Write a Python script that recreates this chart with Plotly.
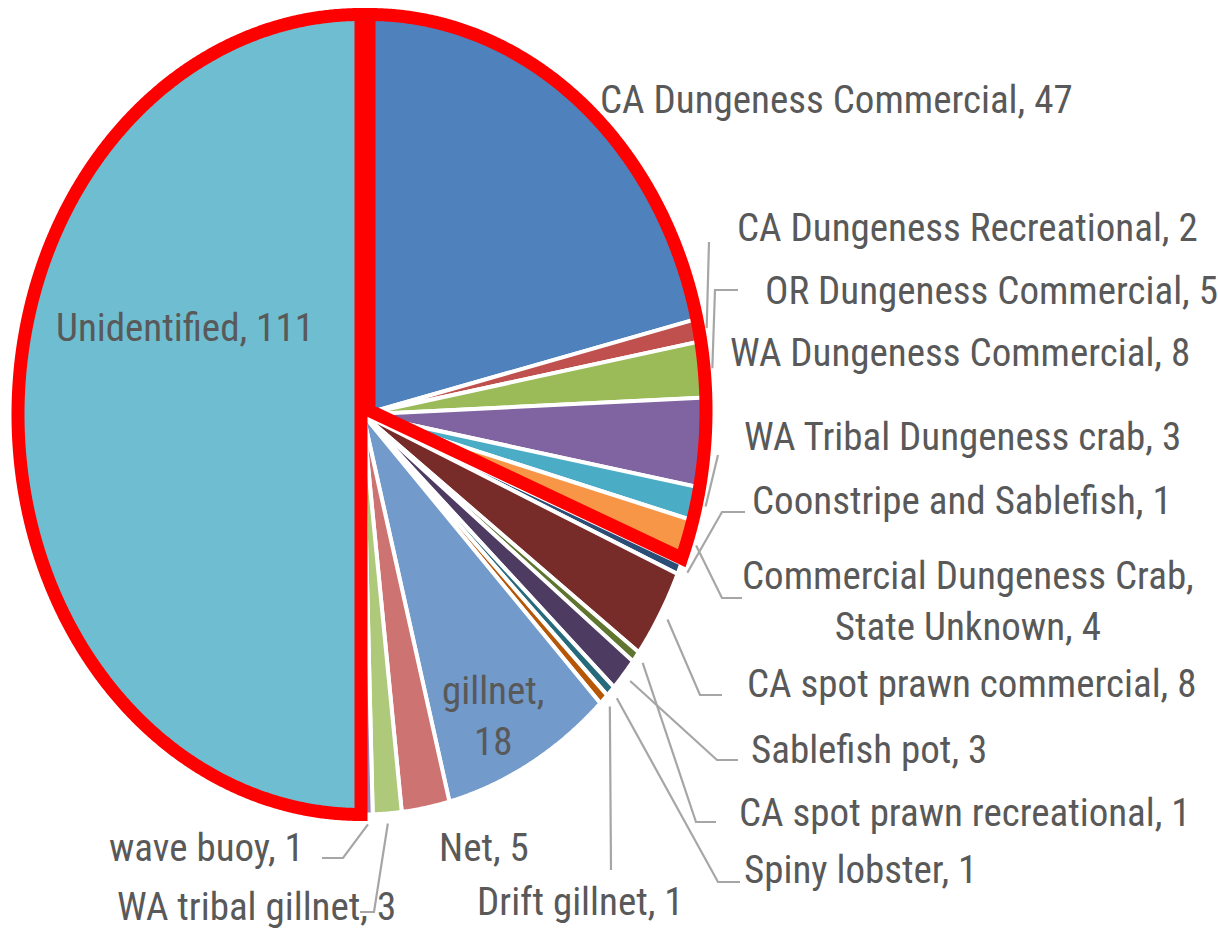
import numpy as np
import plotly.graph_objects as go

# ---------------- data ----------------
categories = [
    "CA Dungeness Commercial",
    "CA Dungeness Recreational",
    "OR Dungeness Commercial",
    "WA Dungeness Commercial",
    "WA Tribal Dungeness crab",
    "Commercial Dungeness Crab, State Unknown",
    "Coonstripe and Sablefish",
    "CA spot prawn commercial",
    "CA spot prawn recreational",
    "Sablefish pot",
    "Spiny lobster",
    "Drift gillnet",
    "gillnet",
    "Net",
    "WA tribal gillnet",
    "wave buoy",
    "Unidentified",
]
values = [47, 2, 5, 8, 3, 4, 1, 8, 1, 3, 1, 1, 18, 5, 3, 1, 111]

# groups outlined in red (index ranges, end exclusive)
outlined_groups = [(0, 6), (16, 17)]

# ---------------- styles ----------------
colors = [
    "#4F81BD", "#C0504D", "#9BBB59", "#8064A2", "#4BACC6", "#F79646",
    "#2C4D75", "#772C2A", "#5F7530", "#4D3B62", "#276A7C", "#B65708",
    "#729ACA", "#CD7371", "#AFC97A", "#9983B5", "#6FBDD1",
]
FONT = "Liberation Sans Narrow, Arial Narrow, Roboto Condensed, Lato, sans-serif"
FONT_SIZE = 39
TEXT_COLOR = "#595959"
LEADER_COLOR = "#A6A6A6"

# pie geometry (pixel space; axes map 1:1 to the page)
W, H = 1218, 933
CX, CY, RA, RB = 363, 414.5, 343, 400

# label layout: index -> (x, y, xanchor, leader elbow points)
label_layout = {
    0: (598, 100, "left", None),
    1: (735, 228, "left", [(709, 242)]),
    2: (763, 291, "left", [(715, 290), (738, 290)]),
    3: (728, 353, "left", None),
    4: (742, 437, "left", [(718, 455)]),
    5: (968, 601, "center", [(722, 598), (742, 598)]),
    6: (750, 501, "left", [(722, 512), (745, 512)]),
    7: (745, 684, "left", [(700, 695), (722, 695)]),
    8: (737, 813, "left", [(696, 822), (716, 822)]),
    9: (749, 750, "left", [(717, 760), (738, 760)]),
    10: (742, 870, "left", [(718, 882), (740, 882)]),
    11: (475, 902, "left", [(611, 870)]),
    12: (493, 716, "center", None),
    13: (437, 848, "left", None),
    14: (115, 907, "left", [(374, 912), (360, 912)]),
    15: (107, 848, "left", [(343, 858), (322, 858)]),
    16: (54, 328, "left", None),
}
line_breaks = {5: ("Commercial Dungeness Crab,", "State Unknown"), 12: ("gillnet,", "")}

# ---------------- geometry helpers ----------------
total = float(sum(values))
cum = np.concatenate([[0.0], np.cumsum(values)]) / total


def arc(f0, f1, cx, cy, a, b, per_turn=1440):
    n = max(2, int(np.ceil((f1 - f0) * per_turn)) + 1)
    t = 2 * np.pi * np.linspace(f0, f1, n)
    return list(cx + a * np.sin(t)), list(cy - b * np.cos(t))


def point(f, cx, cy, a, b, k=1.0):
    t = 2 * np.pi * f
    return cx + k * a * np.sin(t), cy - k * b * np.cos(t)


fig = go.Figure()

# slices
for i, (cat, v) in enumerate(zip(categories, values)):
    ax, ay = arc(cum[i], cum[i + 1], CX, CY, RA, RB)
    xs = [CX] + ax + [CX]
    ys = [CY] + ay + [CY]
    fig.add_trace(go.Scatter(
        x=xs, y=ys, mode="lines", fill="toself", fillcolor=colors[i],
        line=dict(color="white", width=4, simplify=False), hoverinfo="text",
        text=f"{cat}: {v}", name=cat, showlegend=False,
    ))

# red outlines around highlighted groups
outline_offsets = {0: (6, -4, 337, 396), 16: (-2, 0, 343, 400)}
for g0, g1 in outlined_groups:
    dx, dy, a, b = outline_offsets[g0]
    cx, cy = CX + dx, CY + dy
    f0, f1 = cum[g0], cum[g1]
    fm = (f0 + f1) / 2
    x1, y1 = arc(fm, f1, cx, cy, a, b)
    x2, y2 = arc(f0, fm, cx, cy, a, b)
    xs = x1 + [cx] + x2
    ys = y1 + [cy] + y2
    fig.add_trace(go.Scatter(
        x=xs, y=ys, mode="lines",
        line=dict(color="#FF0000", width=13, simplify=False),
        hoverinfo="skip", showlegend=False,
    ))

# leader lines and labels
for i, (cat, v) in enumerate(zip(categories, values)):
    lx, ly, anchor, elbow = label_layout[i]
    if elbow:
        fmid = (cum[i] + cum[i + 1]) / 2
        sx, sy = point(fmid, CX, CY, RA, RB, 1.025)
        xs = [sx] + [p[0] for p in elbow]
        ys = [sy] + [p[1] for p in elbow]
        fig.add_trace(go.Scatter(
            x=xs, y=ys, mode="lines",
            line=dict(color=LEADER_COLOR, width=2.2, simplify=False),
            hoverinfo="skip", showlegend=False,
        ))
    if i in line_breaks:
        l1, l2 = line_breaks[i]
        txt = f"{l1}<br>{(l2 + ', ') if l2 else ''}{v}"
    else:
        txt = f"{cat}, {v}"
    fig.add_annotation(
        x=lx, y=ly, xref="x", yref="y", text=txt, showarrow=False,
        xanchor=anchor, yanchor="middle", align="center",
        font=dict(family=FONT, size=FONT_SIZE, color=TEXT_COLOR),
    )

fig.update_layout(
    width=W, height=H, autosize=False,
    margin=dict(l=0, r=0, t=0, b=0),
    paper_bgcolor="white", plot_bgcolor="white", showlegend=False,
    xaxis=dict(range=[0, W], visible=False, fixedrange=True),
    yaxis=dict(range=[H, 0], visible=False, fixedrange=True),
)

fig.write_html(
    "out.html",
    config={"displayModeBar": False},
    post_script="document.body.style.margin='0px';document.body.style.overflow='hidden';",
)
